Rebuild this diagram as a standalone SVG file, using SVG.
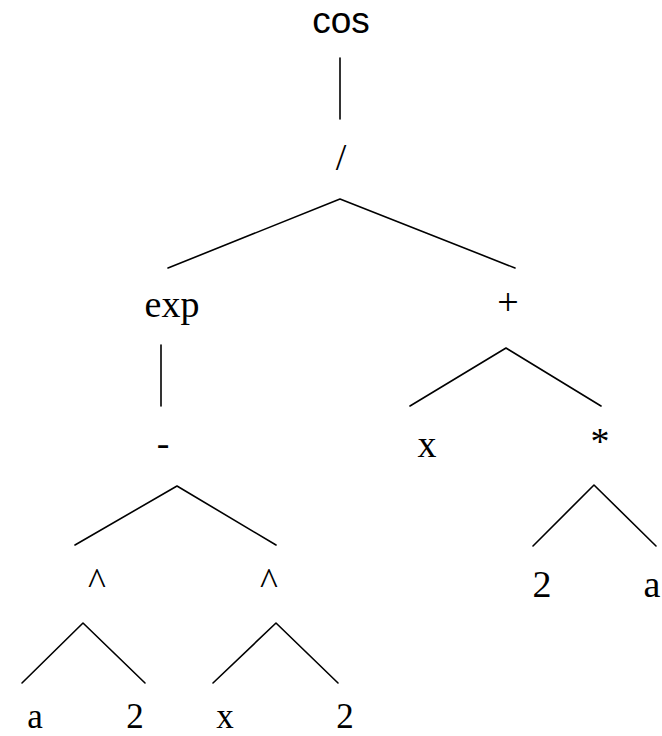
<svg xmlns="http://www.w3.org/2000/svg" width="662" height="736" viewBox="0 0 662 736">
<style>
  .t { font-family: "Liberation Serif", "Times New Roman", serif; font-size: 38px; fill: #000; text-anchor: middle; }
  .b { font-size: 35px; }
  .s { font-family: "Liberation Sans", Arial, sans-serif; font-size: 37px; fill: #000; text-anchor: middle; }
  .e { stroke: #000; stroke-width: 1.6; fill: none; stroke-linecap: round; stroke-linejoin: round; }
</style>
<rect width="662" height="736" fill="#fff"/>
<g id="connectors">
  <line class="e" x1="340" y1="58" x2="340" y2="119"/>
  <polyline class="e" points="168,268 340,199 515,268"/>
  <line class="e" x1="161" y1="345" x2="161" y2="406"/>
  <polyline class="e" points="75,545 177,486 276,545"/>
  <polyline class="e" points="410,406 506,348 601,406"/>
  <polyline class="e" points="533,546 594,485 656,546"/>
  <polyline class="e" points="22,683 83,623 145,683"/>
  <polyline class="e" points="213,683 276,623 338,683"/>
</g>
<g id="n-cos"><text class="s" x="341" y="33">cos</text></g>
<g id="n-div"><text class="t" x="341" y="170">/</text></g>
<g id="n-exp"><text class="t" x="172" y="317">exp</text></g>
<g id="n-plus"><text class="t" x="508" y="315">+</text></g>
<g id="n-minus"><text class="t" x="163" y="456">-</text></g>
<g id="n-x1"><text class="t" x="427" y="457">x</text></g>
<g id="n-mul"><text class="t" x="600" y="454">*</text></g>
<g id="n-pow1"><text class="t" x="97" y="594">^</text></g>
<g id="n-pow2"><text class="t" x="269" y="594">^</text></g>
<g id="n-two1"><text class="t" x="542" y="597">2</text></g>
<g id="n-a1"><text class="t" x="652" y="597">a</text></g>
<g id="n-a2"><text class="t b" x="35" y="728">a</text></g>
<g id="n-two2"><text class="t b" x="135" y="728">2</text></g>
<g id="n-x2"><text class="t b" x="225" y="728">x</text></g>
<g id="n-two3"><text class="t b" x="345" y="728">2</text></g>
</svg>
